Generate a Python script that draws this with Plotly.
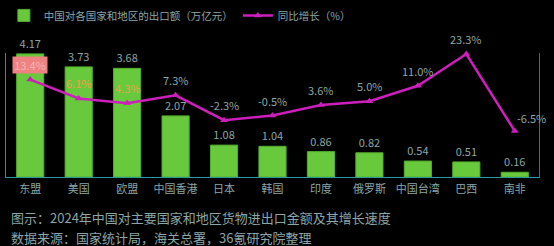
import plotly.graph_objects as go

categories = ["东盟", "美国", "欧盟", "中国香港", "日本", "韩国", "印度", "俄罗斯", "中国台湾", "巴西", "南非"]
export_values = [4.17, 3.73, 3.68, 2.07, 1.08, 1.04, 0.86, 0.82, 0.54, 0.51, 0.16]
growth_values = [13.4, 6.1, 4.3, 7.3, -2.3, -0.5, 3.6, 5.0, 11.0, 23.3, -6.5]
bar_labels = [f"{v:.2f}" for v in export_values]
growth_labels = [f"{v:.1f}%" for v in growth_values]

bar_name = "中国对各国家和地区的出口额（万亿元）"
line_name = "同比增长（%）"
caption1 = "图示：2024年中国对主要国家和地区货物进出口金额及其增长速度"
caption2 = "数据来源：国家统计局，海关总署，36氪研究院整理"

FONT = "Noto Sans CJK SC, Noto Sans, sans-serif"
TXT = "#8aa6a6"
LINE = "#cc1fbb"

fig = go.Figure()
fig.add_trace(go.Bar(
    x=categories, y=export_values, name=bar_name,
    marker=dict(color="#67c93b", line=dict(color="#56ad2f", width=1)),
    width=0.56,
    text=bar_labels, textposition="outside", cliponaxis=False,
    textfont=dict(color=TXT, size=11, family=FONT),
))
fig.add_trace(go.Scatter(
    x=categories, y=growth_values, name=line_name, yaxis="y2",
    mode="lines+markers", cliponaxis=False,
    line=dict(color=LINE, width=2.5),
    marker=dict(symbol="triangle-up", size=7, color=LINE),
))

# line value labels
last = len(growth_values) - 1
for i, (c, v, t) in enumerate(zip(categories, growth_values, growth_labels)):
    kw = dict(x=c, y=v, xref="x", yref="y2", text=t, showarrow=False,
              yshift=15, font=dict(color=TXT, size=11, family=FONT))
    if i == 0:
        kw["bgcolor"] = "#ee8282"
        kw["borderpad"] = 0
        kw["width"] = 34
        kw["font"] = dict(color="#f5b3b3", size=11, family=FONT)
    elif i in (1, 2):
        kw["font"] = dict(color="#f0a048", size=11, family=FONT)
    if i == last:
        kw["xshift"] = 17
        kw["yshift"] = 13
    fig.add_annotation(**kw)

fig.add_annotation(xref="paper", yref="paper", x=0.0056, y=-0.33, xanchor="left", yanchor="middle",
                   text=caption1, showarrow=False, font=dict(color=TXT, size=13, family=FONT))
fig.add_annotation(xref="paper", yref="paper", x=0.0056, y=-0.484, xanchor="left", yanchor="middle",
                   text=caption2, showarrow=False, font=dict(color=TXT, size=13, family=FONT))

fig.update_layout(
    width=554, height=246,
    margin=dict(l=6, r=15, t=53, b=69, autoexpand=False),
    paper_bgcolor="#000000", plot_bgcolor="#000000",
    font=dict(family=FONT, color=TXT, size=11),
    showlegend=True,
    legend=dict(orientation="h", x=-0.004, y=1.42, xanchor="left", yanchor="top",
                font=dict(color=TXT, size=10.5, family=FONT), bgcolor="rgba(0,0,0,0)"),
    xaxis=dict(range=[-0.5, len(categories) - 0.5], autorange=False,
               showline=True, linecolor="#2a9a9a", linewidth=1, ticks="", showgrid=False,
               ticklabelstandoff=2,
               automargin=False, tickfont=dict(color=TXT, size=11, family=FONT)),
    yaxis=dict(range=[0, 4.2], showline=True, linecolor="#c05058", linewidth=1, automargin=False,
               showticklabels=False, ticks="", showgrid=False, zeroline=False),
    yaxis2=dict(range=[-24.3, 23.7], overlaying="y", side="right", showline=True, automargin=False,
                linecolor="#9a4a44", linewidth=1, showticklabels=False, ticks="",
                showgrid=False, zeroline=False),
)

fig.write_html("out.html")
